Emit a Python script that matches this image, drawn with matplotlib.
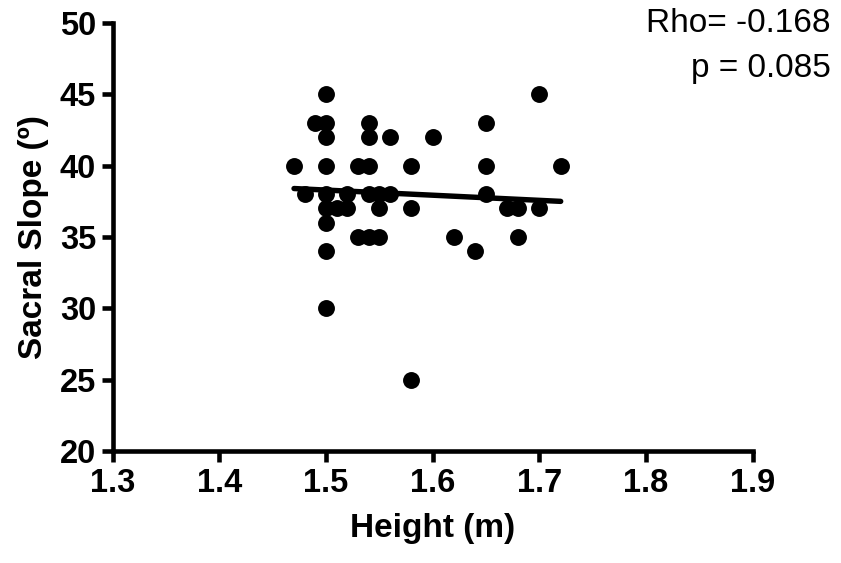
import matplotlib.pyplot as plt
import numpy as np

plt.rcParams['font.family'] = ['Liberation Sans', 'DejaVu Sans']

height = [1.50, 1.49, 1.50, 1.50, 1.54, 1.54, 1.56, 1.47, 1.50, 1.53,
          1.54, 1.58, 1.48, 1.50, 1.52, 1.54, 1.55, 1.56, 1.50, 1.51,
          1.52, 1.55, 1.58, 1.50, 1.53, 1.54, 1.55, 1.50, 1.50, 1.58,
          1.70, 1.65, 1.60, 1.65, 1.72, 1.65, 1.67, 1.68, 1.70, 1.62,
          1.68, 1.64]
sacral_slope = [45, 43, 43, 42, 43, 42, 42, 40, 40, 40,
                40, 40, 38, 38, 38, 38, 38, 38, 37, 37,
                37, 37, 37, 36, 35, 35, 35, 34, 30, 25,
                45, 43, 42, 40, 40, 38, 37, 37, 37, 35,
                35, 34]
# linear regression line (start and end of fitted range)
fit_height = [1.47, 1.72]
fit_slope = [38.4, 37.5]
x_ticks = [1.3, 1.4, 1.5, 1.6, 1.7, 1.8, 1.9]
y_ticks = [20, 25, 30, 35, 40, 45, 50]

fig = plt.figure(figsize=(8.41, 5.63), dpi=100)
ax = fig.add_axes([0.134, 0.199, 0.761, 0.760])

ax.scatter(height, sacral_slope, s=148, color='black', zorder=3, linewidths=0)
ax.plot(fit_height, fit_slope, color='black', lw=3.9,
        solid_capstyle='round', zorder=4)

ax.set_xlim(1.3, 1.9)
ax.set_ylim(20, 50)
ax.set_xticks(x_ticks)
ax.set_yticks(y_ticks)
ax.set_xticklabels([f'{t:.1f}' for t in x_ticks])

for side in ['top', 'right']:
    ax.spines[side].set_visible(False)
for side in ['left', 'bottom']:
    ax.spines[side].set_linewidth(3.3)
    ax.spines[side].set_capstyle('projecting')
ax.tick_params(width=3.3, length=8, labelsize=23.5, pad=4)
for lbl in ax.get_xticklabels() + ax.get_yticklabels():
    lbl.set_fontweight('bold')

ax.set_xlabel('Height (m)', fontsize=24, fontweight='bold', labelpad=10)
ax.set_ylabel('Sacral Slope (º)', fontsize=24, fontweight='bold', labelpad=8)

fig.text(0.988, 0.985, 'Rho= -0.168', ha='right', va='top', fontsize=24)
fig.text(0.988, 0.905, 'p = 0.085', ha='right', va='top', fontsize=24)

fig.savefig('out.png', dpi=100)
